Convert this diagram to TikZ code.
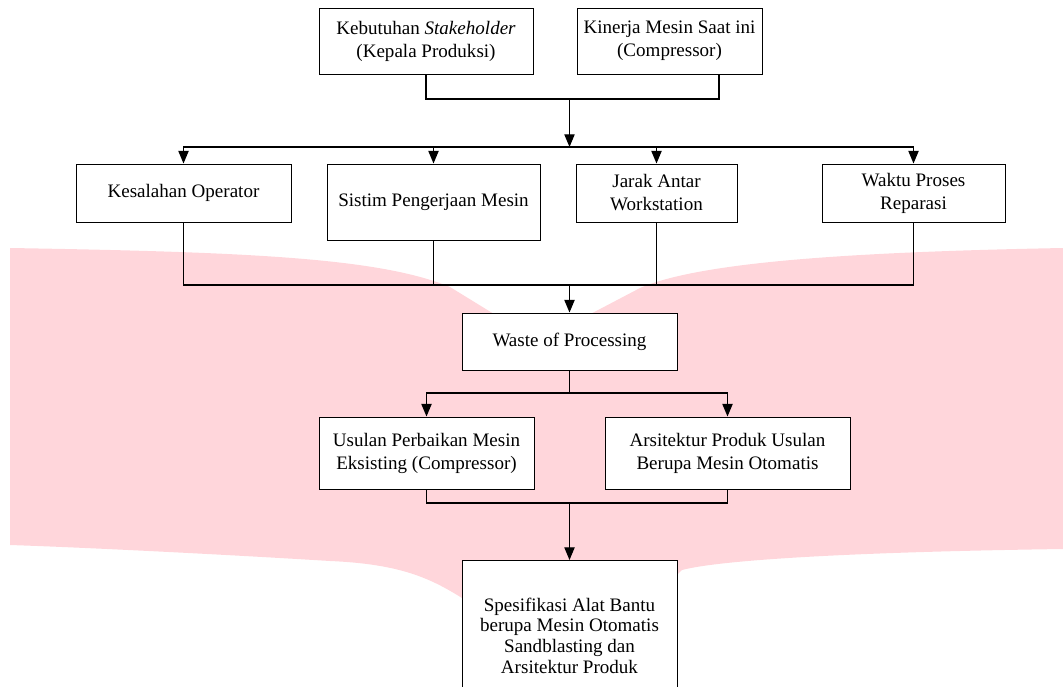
\documentclass[tikz,border=0pt]{standalone}
\usepackage{fontspec}
\setmainfont{Liberation Serif}
\usetikzlibrary{positioning,arrows.meta,calc}
\definecolor{wmpink}{RGB}{255,214,219}
\tikzstyle{ibox}=[rectangle, draw=black, fill=white, line width=0.6pt,
                  inner sep=2pt, align=center, font=\fontsize{12}{14.5}\selectfont]
\tikzstyle{pline}=[-, line width=0.75pt]
\tikzstyle{parrow}=[-{Triangle[length=8pt,width=6.5pt]}, line width=0.75pt]
\tikzset{sz/.style 2 args={minimum width=#1*0.63pt, minimum height=#2*0.63pt}}

\begin{document}
\begin{tikzpicture}[x=0.63pt, y=-0.63pt]
\useasboundingbox (0,0) rectangle (1063,686);

% watermark in the background
\fill[wmpink] (10,248) .. controls (250,252) and (380,258) .. (450,287) -- (520,330)
  -- (560,330) -- (640,288) .. controls (700,262) and (850,252) .. (1063,248)
  -- (1063,549) .. controls (850,552) and (720,560) .. (682,570) -- (640,610)
  -- (480,610) -- (462,598) .. controls (430,578) and (400,564) .. (330,561)
  .. controls (250,556) and (100,548) .. (10,545) -- cycle;

\node (KBT) [ibox, sz={214}{66}] at (426,41) {Kebutuhan \textit{Stakeholder}\\(Kepala Produksi)};
\node (KNJ) [ibox, sz={185}{66}] at (669.5,41) {Kinerja Mesin Saat ini\\(Compressor)};

\node (KSL) [ibox, sz={215}{58}] at (183.5,193) {Kesalahan Operator};
\node (SPM) [ibox, sz={213}{76}] at (433.5,202) {Sistim Pengerjaan Mesin};
\node (JRK) [ibox, sz={161}{58}] at (656.5,193) {Jarak Antar\\Workstation};
\node (WKT) [ibox, sz={183}{58}] at (913.5,193) {Waktu Proses\\Reparasi};

\node (WST) [ibox, sz={215}{57}] at (569.5,341.5) {Waste of Processing};

\node (USL) [ibox, sz={215}{72}] at (426.5,453) {Usulan Perbaikan Mesin\\Eksisting (Compressor)};
\node (ARS) [ibox, sz={245}{72}] at (727.5,453) {Arsitektur Produk Usulan\\Berupa Mesin Otomatis};

\node (SPK) [ibox, sz={215}{150}, anchor=north, font=\fontsize{12}{13}\selectfont] at (569.5,560)
  {Spesifikasi Alat Bantu\\berupa Mesin Otomatis\\Sandblasting dan\\Arsitektur Produk};

\coordinate (J1) at (569.5,99);
\coordinate (J2) at (569.5,147);
\coordinate (J3) at (569.5,285);
\coordinate (J4) at (569.5,393);
\coordinate (J5) at (569.5,503);

 \draw[pline]  (KBT.south) |- (J1);
 \draw[pline]  ($(KNJ.south)+(49.5,0)$) |- (J1);
 \draw[parrow] (J1) -- (J2);
 \draw[parrow] (J2) -| (KSL.north);
 \draw[parrow] (J2) -| (SPM.north);
 \draw[parrow] (J2) -| (JRK.north);
 \draw[parrow] (J2) -| (WKT.north);

 \draw[pline]  (KSL.south) |- (J3);
 \draw[pline]  (SPM.south) |- (J3);
 \draw[pline]  (JRK.south) |- (J3);
 \draw[pline]  (WKT.south) |- (J3);
 \draw[parrow] (J3) -- (WST.north);

 \draw[pline]  (WST.south) -- (J4);
 \draw[parrow] (J4) -| (USL.north);
 \draw[parrow] (J4) -| (ARS.north);

 \draw[pline]  (USL.south) |- (J5);
 \draw[pline]  (ARS.south) |- (J5);
 \draw[parrow] (J5) -- (SPK.north);

\end{tikzpicture}
\end{document}
